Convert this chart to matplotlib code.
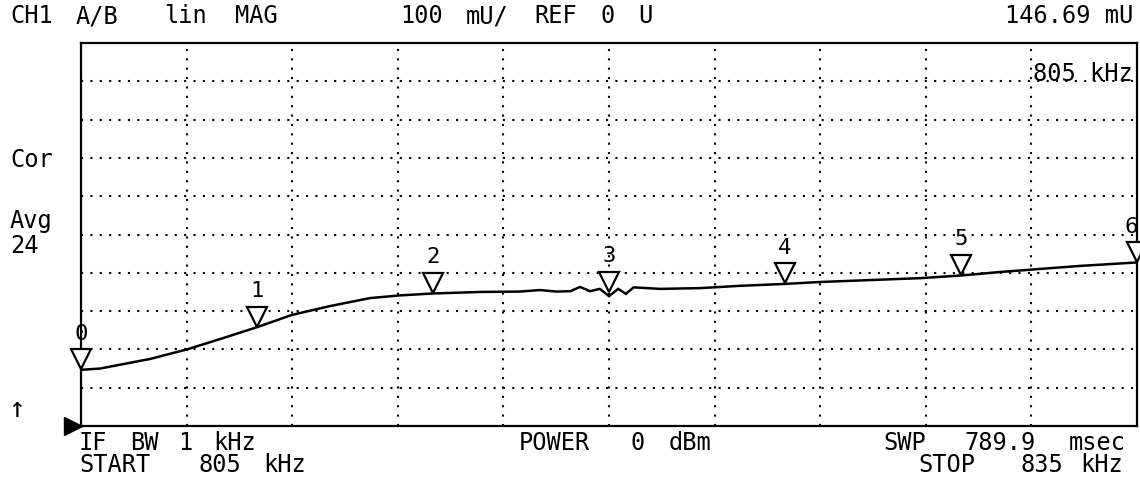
import matplotlib
matplotlib.use("Agg")
import matplotlib.pyplot as plt
import matplotlib.transforms as mtransforms

# trace (kHz, mU)
freq = [805.0, 805.54, 806.96, 808.01, 808.95, 810.0, 810.99, 812.07, 813.21, 814.06,
        815.0, 816.34, 817.47, 818.04, 818.5, 818.9, 819.18, 819.46, 819.74, 820.0,
        820.26, 820.48, 820.7, 821.45, 822.59, 823.72, 825.0, 826.0, 827.41, 828.84,
        830.0, 831.1, 832.24, 833.38, 835.0]
mag = [146.7, 150, 175, 200, 227, 258, 290, 313, 334, 341,
       346, 350, 351, 355, 351, 352, 363, 352, 358, 339,
       358, 345, 362, 358, 360, 366, 371, 376, 381, 386,
       393, 402, 410, 418, 427]

marker_freq = [805, 810, 815, 820, 825, 830, 835]
marker_mag = [146.69, 258, 346, 350, 371, 394, 426]
marker_lbl = ["0", "1", "2", "3", "4", "5", "6"]

start, stop = 805, 835
scale, ref = 100, 0   # mU/div, ref value
ndiv = 10

W, H = 1140, 482
fig = plt.figure(figsize=(W / 100, H / 100), dpi=100)
fig.patch.set_facecolor("white")
ax = fig.add_axes([81 / W, 1 - 426 / H, (1137 - 81) / W, (426 - 43) / H])

ax.set_xlim(start, stop)
ax.set_ylim(ref, ref + scale * ndiv)
for s in ax.spines.values():
    s.set_linewidth(1.6)
ax.set_xticks([])
ax.set_yticks([])

# dotted graticule
step = (stop - start) / ndiv
for i in range(1, ndiv):
    ax.axvline(start + i * step, color="black", lw=1.5, ls=(0, (1, 3.5)))
    ax.axhline(ref + i * scale, color="black", lw=1.5, ls=(0, (1, 3.5)))

ax.plot(freq, mag, color="black", lw=1.8, solid_joinstyle="miter")

# markers: tip on trace, number above
tri_tr = mtransforms.offset_copy(ax.transData, fig=fig, x=0, y=7.5, units="points")
ax.plot(marker_freq, marker_mag, ls="none", marker="v", ms=15, mfc="white",
        mec="black", mew=1.6, transform=tri_tr, clip_on=False, zorder=5)
mono = "DejaVu Sans Mono"
for i, (f, m, l) in enumerate(zip(marker_freq, marker_mag, marker_lbl)):
    dx = -4 if i == len(marker_lbl) - 1 else 0
    ax.annotate(l, (f, m), xytext=(dx, 26), textcoords="offset points",
                ha="center", va="center", fontsize=16, family=mono, clip_on=False)

# reference position pointer
ax.plot([-0.008], [ref], marker=">", ms=13, color="black", clip_on=False,
        transform=mtransforms.blended_transform_factory(ax.transAxes, ax.transData))


def txt(x, y, s, ha="left", size=17):
    fig.text(x / W, 1 - y / H, s, ha=ha, va="center", fontsize=size, family=mono)


# header line, word by word to follow the wide screen font
for x, s in [(10, "CH1"), (76, "A/B"), (164, "lin"), (235, "MAG"),
             (400, "100"), (466, "mU/"), (534, "REF"), (600, "0"), (638, "U")]:
    txt(x, 16, s)
txt(1133, 16, "146.69 mU", ha="right")
txt(1133, 74, "805 kHz", ha="right")
txt(10, 160, "Cor")
txt(10, 221, "Avg")
txt(10, 246, "24")
txt(8, 409, "↑", size=20)

for x, s in [(79, "IF"), (130, "BW"), (178, "1"), (213, "kHz"),
             (519, "POWER"), (630, "0"), (669, "dBm"),
             (883, "SWP"), (964, "789.9"), (1069, "msec")]:
    txt(x, 443, s)
for x, s in [(79, "START"), (198, "805"), (263, "kHz"),
             (918, "STOP"), (1020, "835"), (1080, "kHz")]:
    txt(x, 465, s)

fig.savefig("out.png", dpi=100, facecolor="white")
